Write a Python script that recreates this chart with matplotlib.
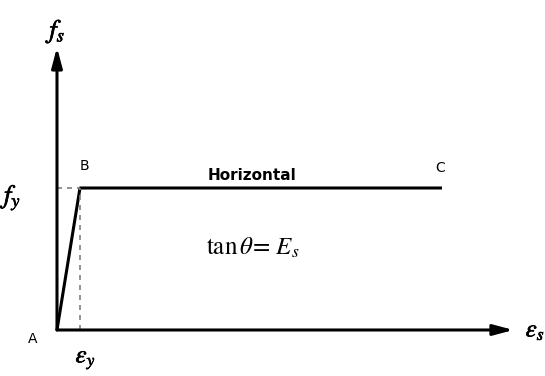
import matplotlib.pyplot as plt
import matplotlib.patheffects as pe

# idealised elastic-perfectly-plastic steel, normalised units (eps_y = 1, f_y = 1)
strain = [0.0, 1.0, 16.74]
stress = [0.0, 1.0, 1.0]
point_names = ["A", "B", "C"]
axis_end = (19.85, 1.99)

plt.rcParams["mathtext.fontset"] = "stix"

fig = plt.figure(figsize=(5.45, 3.76), dpi=100)
ax = fig.add_axes([0, 0, 1, 1])
ax.set_xlim(-2.478, 21.22)
ax.set_ylim(-0.324, 2.324)
ax.axis("off")

lw = 2.2
head = "-|>,head_width=0.2,head_length=0.75"
# axes with arrow heads
ax.annotate("", xy=(0, axis_end[1]), xytext=(0, 0),
            arrowprops=dict(arrowstyle=head, lw=lw, color="black",
                            mutation_scale=16, shrinkA=0, shrinkB=0))
ax.annotate("", xy=(axis_end[0], 0), xytext=(0, 0),
            arrowprops=dict(arrowstyle=head, lw=lw, color="black",
                            mutation_scale=16, shrinkA=0, shrinkB=0))

# stress-strain curve
ax.plot(strain, stress, color="black", lw=lw, solid_capstyle="butt")

# yield guides
ax.plot([0, strain[1]], [stress[1], stress[1]], color="gray", lw=1.2, ls=(0, (3, 3)))
ax.plot([strain[1], strain[1]], [0, stress[1]], color="gray", lw=1.2, ls=(0, (3, 3)))

# labels
bold = [pe.withStroke(linewidth=0.5, foreground="black")]
ax.text(-1.08, -0.06, point_names[0], fontsize=10, ha="center", va="center")
ax.text(strain[1] + 0.2, stress[1] + 0.155, point_names[1], fontsize=10, ha="center", va="center")
ax.text(strain[2] - 0.1, stress[2] + 0.14, point_names[2], fontsize=10, ha="center", va="center")
ax.text(8.5, stress[1] + 0.09, "Horizontal", fontsize=11, fontweight="bold",
        ha="center", va="center")
ax.text(8.5, 0.58, r"$\mathrm{tan}\,\theta\!=\,E_s$", fontsize=18, ha="center", va="center")

ax.text(0.1, 2.1, r"$f_s$", fontsize=19, ha="center", va="center", path_effects=bold)
ax.text(-1.85, 0.93, r"$f_y$", fontsize=19, ha="center", va="center", path_effects=bold)
ax.text(1.25, -0.21, r"$\varepsilon_y$", fontsize=18, ha="center", va="center", path_effects=bold)
ax.text(20.8, 0.0, r"$\varepsilon_s$", fontsize=18, ha="center", va="center", path_effects=bold)

fig.savefig("out.png", dpi=100)
